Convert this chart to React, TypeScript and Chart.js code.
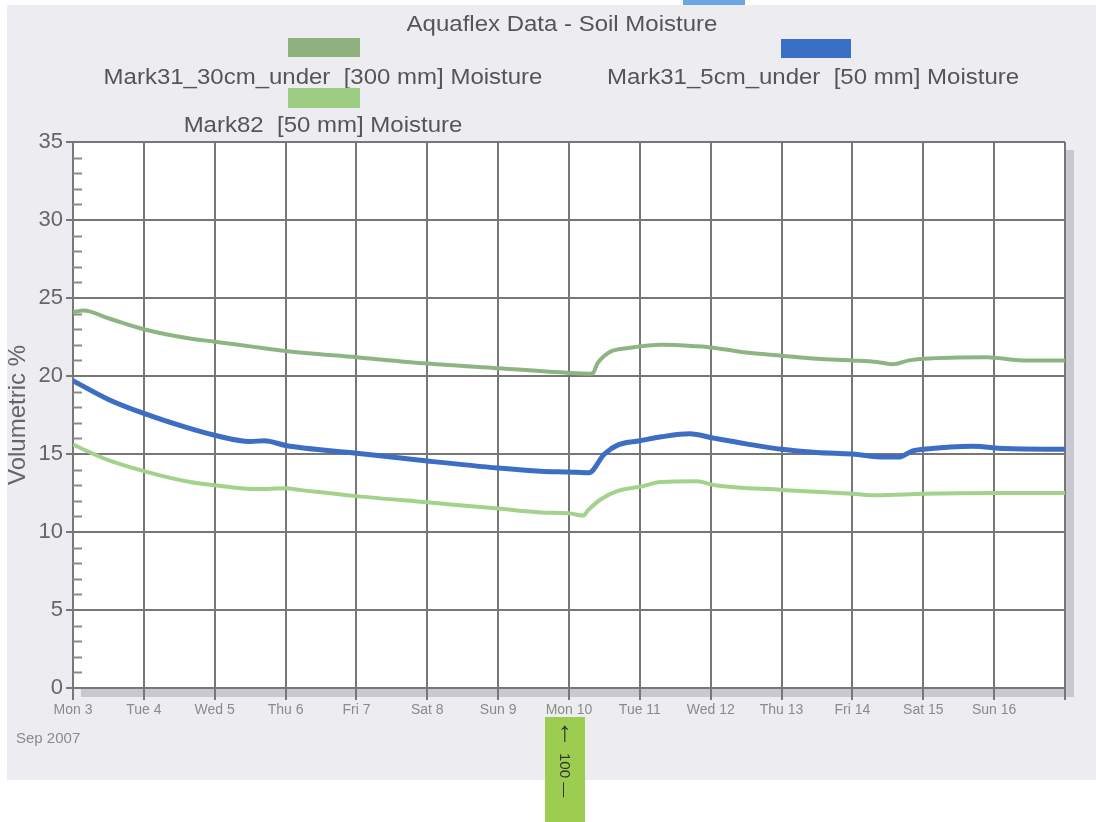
import React, { useEffect, useRef } from "react";
import { Chart, registerables } from "chart.js";

Chart.register(...registerables);

// ---- data ----
const dayLabels = ["Mon 3", "Tue 4", "Wed 5", "Thu 6", "Fri 7", "Sat 8", "Sun 9", "Mon 10", "Tue 11", "Wed 12", "Thu 13", "Fri 14", "Sat 15", "Sun 16"];
const yMin = 0;
const yMax = 35;
const yStep = 5;

const seriesNames = [
  "Mark31_30cm_under  [300 mm] Moisture",
  "Mark31_5cm_under  [50 mm] Moisture",
  "Mark82  [50 mm] Moisture",
];

// days since Mon 3 Sep 2007 00:00
const mark31_30cmDays = [0, 0.15, 0.5, 1, 1.65, 2, 2.5, 3, 4, 5, 6, 7, 7.3, 7.34, 7.4, 7.5, 7.6, 7.84, 8.3, 8.8, 9.06, 9.5, 10, 10.5, 11, 11.35, 11.57, 11.8, 12, 12.9, 13.4, 14];
const mark31_30cmValues = [24.1, 24.2, 23.7, 23.0, 22.4, 22.2, 21.9, 21.6, 21.2, 20.8, 20.5, 20.2, 20.15, 20.2, 20.8, 21.3, 21.6, 21.8, 22.0, 21.9, 21.8, 21.5, 21.3, 21.1, 21.0, 20.9, 20.75, 21.0, 21.1, 21.2, 21.0, 21.0];

const mark31_5cmDays = [0, 0.5, 1, 1.6, 2, 2.5, 2.7, 3, 4, 5, 6, 6.6, 7, 7.28, 7.5, 7.7, 8, 8.3, 8.7, 9.06, 9.5, 10, 10.5, 11, 11.45, 11.65, 11.85, 12, 12.7, 13.15, 14];
const mark31_5cmValues = [19.7, 18.5, 17.6, 16.7, 16.2, 15.8, 15.85, 15.55, 15.05, 14.55, 14.1, 13.9, 13.85, 13.8, 15.0, 15.6, 15.85, 16.1, 16.3, 16.0, 15.65, 15.3, 15.1, 15.0, 14.8, 14.8, 15.2, 15.3, 15.5, 15.35, 15.3];

const mark82Days = [0, 0.5, 1, 1.65, 2, 2.6, 3, 3.2, 4, 5, 6, 6.6, 7, 7.2, 7.27, 7.45, 7.7, 8, 8.3, 8.8, 9.06, 10, 11, 11.35, 12, 13, 14];
const mark82Values = [15.6, 14.6, 13.9, 13.2, 13.0, 12.75, 12.8, 12.7, 12.3, 11.9, 11.5, 11.25, 11.2, 11.05, 11.4, 12.1, 12.65, 12.9, 13.2, 13.25, 13.0, 12.7, 12.45, 12.35, 12.45, 12.5, 12.5];

const seriesColors = ["#8db583", "#3d6ec4", "#a3d28c"];
const swatchColors = ["#8fb07f", "#3a6fc6", "#9ccb82"];

const toPoints = (days: number[], vals: number[]) => days.map((d, i) => ({ x: d, y: vals[i] }));

const shadowPlugin = {
  id: "plotShadow",
  beforeDraw(chart: any) {
    const { ctx, chartArea } = chart;
    const { left, top, right, bottom } = chartArea;
    ctx.save();
    ctx.fillStyle = "#c8c8d0";
    ctx.fillRect(right, top + 8, 9, bottom - top + 1);
    ctx.fillRect(left + 8, bottom, right - left + 1, 9);
    ctx.fillStyle = "#ffffff";
    ctx.fillRect(left, top, right - left, bottom - top);
    ctx.restore();
  },
};

const minorTickPlugin = {
  id: "minorTicks",
  beforeDatasetsDraw(chart: any) {
    const { ctx, chartArea, scales } = chart;
    const ys = scales.y;
    ctx.save();
    ctx.strokeStyle = "#8a8a8a";
    ctx.lineWidth = 2;
    for (let v = yMin; v <= yMax; v++) {
      if (v % yStep === 0) continue;
      const py = Math.round(ys.getPixelForValue(v)) + 0.5;
      ctx.beginPath();
      ctx.moveTo(chartArea.left, py);
      ctx.lineTo(chartArea.left + 9, py);
      ctx.stroke();
    }
    ctx.restore();
  },
};

export default function App() {
  const canvasRef = useRef<HTMLCanvasElement | null>(null);

  useEffect(() => {
    if (!canvasRef.current) return;
    const chart = new Chart(canvasRef.current, {
      type: "line",
      data: {
        datasets: [
          { label: seriesNames[0], data: toPoints(mark31_30cmDays, mark31_30cmValues), borderColor: seriesColors[0], borderWidth: 4 },
          { label: seriesNames[1], data: toPoints(mark31_5cmDays, mark31_5cmValues), borderColor: seriesColors[1], borderWidth: 5 },
          { label: seriesNames[2], data: toPoints(mark82Days, mark82Values), borderColor: seriesColors[2], borderWidth: 4 },
        ].map((d) => ({ ...d, pointRadius: 0, fill: false, cubicInterpolationMode: "monotone" as const })),
      },
      options: {
        responsive: false,
        animation: false,
        events: [],
        layout: { padding: { top: 142, right: 31, bottom: 74, left: 0 } },
        plugins: { legend: { display: false }, title: { display: false }, tooltip: { enabled: false } },
        scales: {
          x: {
            type: "linear",
            min: 0,
            max: dayLabels.length,
            afterFit: (s: any) => { s.height = 60; },
            ticks: {
              stepSize: 1,
              autoSkip: false,
              maxRotation: 0,
              padding: 2,
              color: "#8a8a8a",
              font: { family: "Liberation Sans, Arial, sans-serif", size: 14 },
              callback: (v: any) => dayLabels[v as number] ?? "",
            },
            grid: { color: "#777777", lineWidth: 2, tickLength: 12, tickColor: "#777777" },
            border: { display: true, color: "#777777", width: 2 },
          },
          y: {
            min: yMin,
            max: yMax,
            afterFit: (s: any) => { s.width = 73; },
            ticks: {
              stepSize: yStep,
              padding: 3,
              color: "#666666",
              font: { family: "Liberation Sans, Arial, sans-serif", size: 22 },
            },
            grid: { color: "#777777", lineWidth: 2, tickLength: 7, tickColor: "#777777" },
            border: { display: true, color: "#777777", width: 2 },
            title: {
              display: true,
              text: "Volumetric %",
              color: "#666666",
              padding: { top: 4, bottom: 0 },
              font: { family: "Liberation Sans, Arial, sans-serif", size: 24 },
            },
          },
        },
      },
      plugins: [shadowPlugin, minorTickPlugin],
    });
    return () => chart.destroy();
  }, []);

  const font = "Liberation Sans, Arial, sans-serif";
  const txt = (left: number, top: number, size: number, color = "#555"): React.CSSProperties => ({
    position: "absolute",
    left,
    top,
    transform: "translateX(-50%) scaleY(0.9)",
    whiteSpace: "pre",
    fontFamily: font,
    fontSize: size,
    lineHeight: 1,
    color,
  });

  return (
    <div style={{ position: "absolute", left: 0, top: 0, width: 1096, height: 822, background: "#ffffff", overflow: "hidden" }}>
      <div style={{ position: "absolute", left: 7, top: 5, width: 1089, height: 775, background: "#ededf1" }} />
      <div style={{ position: "absolute", left: 683, top: 0, width: 62, height: 5, background: "#6ea6e2" }} />
      <canvas ref={canvasRef} width={1096} height={822} style={{ position: "absolute", left: 0, top: 0, width: 1096, height: 822 }} />
      <div style={txt(562, 12, 24)}>Aquaflex Data - Soil Moisture</div>
      <div style={{ position: "absolute", left: 288, top: 38, width: 72, height: 19, background: swatchColors[0] }} />
      <div style={txt(323, 65, 24)}>{seriesNames[0]}</div>
      <div style={{ position: "absolute", left: 781, top: 39, width: 70, height: 19, background: swatchColors[1] }} />
      <div style={txt(813, 65, 24)}>{seriesNames[1]}</div>
      <div style={{ position: "absolute", left: 288, top: 88, width: 72, height: 20, background: swatchColors[2] }} />
      <div style={txt(323, 113, 24)}>{seriesNames[2]}</div>
      <div style={{ position: "absolute", left: 16, top: 729, fontFamily: font, fontSize: 15, color: "#8a8a8a" }}>Sep 2007</div>
      <div style={{ position: "absolute", left: 545, top: 717, width: 40, height: 105, background: "#9ccd50", fontFamily: font, color: "#333", textAlign: "center" }}>
        <div style={{ fontSize: 28, lineHeight: "30px" }}>↑</div>
        <div style={{ writingMode: "vertical-rl", fontSize: 15, margin: "6px auto 0" }}>100 —</div>
      </div>
    </div>
  );
}
